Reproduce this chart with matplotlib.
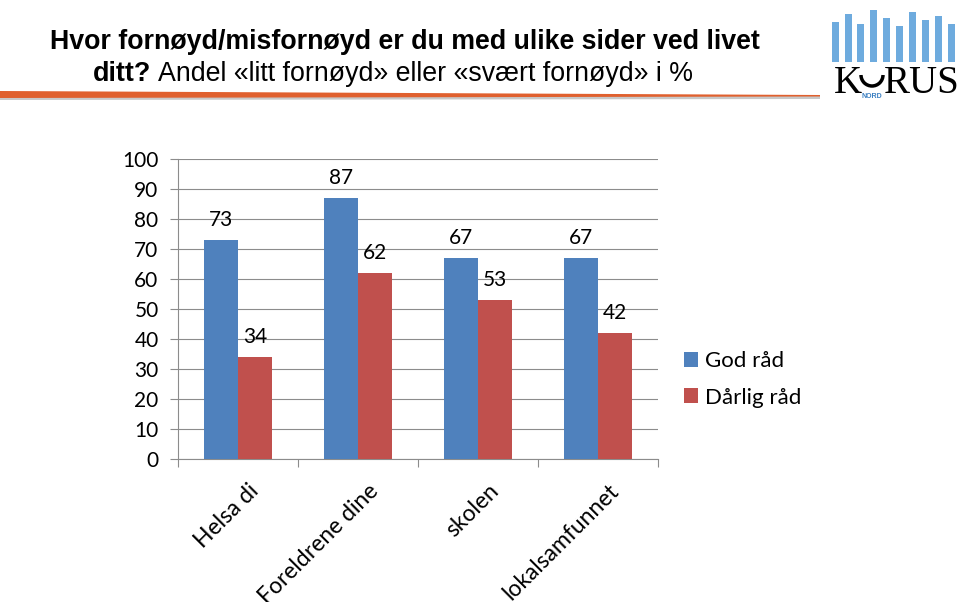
import numpy as np
import matplotlib.pyplot as plt
from matplotlib.patches import Rectangle, Polygon, Arc

# Data
categories = ["Helsa di", "Foreldrene dine", "skolen", "lokalsamfunnet"]
god_rad = [73, 87, 67, 67]
darlig_rad = [34, 62, 53, 42]
series_names = ["God råd", "Dårlig råd"]

blue = "#4F81BD"
red = "#C0504D"
body_font = ["Lato", "DejaVu Sans"]
title_font = ["Liberation Sans", "DejaVu Sans"]

fig = plt.figure(figsize=(9.6, 6.02), dpi=100)
W, H = 960, 602


def fx(px):
    return px / W


def fy(py):
    return 1 - py / H


# plot area: x 178-658, y 159-459 (pixels from top)
ax = fig.add_axes([fx(178), fy(459), 480 / W, 300 / H])

x = np.arange(len(categories))
w = 0.283
b1 = ax.bar(x - w / 2, god_rad, w, color=blue, label=series_names[0], zorder=3)
b2 = ax.bar(x + w / 2, darlig_rad, w, color=red, label=series_names[1], zorder=3)

for bars, vals in [(b1, god_rad), (b2, darlig_rad)]:
    for rect, v in zip(bars, vals):
        ax.text(rect.get_x() + rect.get_width() / 2, v + 3.2, str(v),
                ha="center", va="bottom", fontsize=15, family=body_font)

ax.set_xlim(-0.5, len(categories) - 0.5)
ax.set_ylim(0, 100)
ax.set_yticks(range(0, 101, 10))
ax.yaxis.grid(True, color="#8c8c8c", linewidth=0.8, zorder=0)
ax.set_axisbelow(True)

for side in ["top", "right"]:
    ax.spines[side].set_visible(False)
ax.spines["left"].set_color("#8c8c8c")
ax.spines["bottom"].set_color("#8c8c8c")

ax.tick_params(axis="y", length=6, color="#8c8c8c", labelsize=15, pad=8)
for lbl in ax.get_yticklabels():
    lbl.set_family(body_font)

# category boundary ticks
ax.set_xticks(np.arange(-0.5, len(categories) + 0.5, 1))
ax.set_xticklabels([])
ax.tick_params(axis="x", length=6, color="#8c8c8c")
for i, c in enumerate(categories):
    ax.text(i + 0.08, -7, c, rotation=45, ha="right", va="top",
            rotation_mode="anchor", fontsize=16.5, family=body_font,
            transform=ax.transData, clip_on=False)

# legend
leg = fig.legend(handles=[b1, b2], labels=series_names, loc="upper left",
                 bbox_to_anchor=(fx(664), fy(331)), frameon=False,
                 prop={"family": body_font, "size": 16}, handlelength=0.65,
                 handleheight=0.65, labelspacing=0.75, handletextpad=0.3)

# title
fig.text(fx(50), fy(42), "Hvor fornøyd/misfornøyd er du med ulike sider ved livet",
         fontsize=19.3, fontweight="bold", family=title_font, va="center")
t_bold = fig.text(fx(93), fy(74), "ditt?", fontsize=19.3, fontweight="bold",
                  family=title_font, va="center")
fig.canvas.draw()
end_px = t_bold.get_window_extent().x1
fig.text((end_px + 7) / W, fy(74), "Andel «litt fornøyd» eller «svært fornøyd» i %",
         fontsize=19.3, family=title_font, va="center")

# orange rule under title, tapering to the right
fig.patches.append(Polygon([(0, fy(93)), (fx(820), fy(96)), (fx(820), fy(99)), (0, fy(100))],
                           closed=True, transform=fig.transFigure,
                           facecolor="#c8c8c8", edgecolor="none"))
fig.patches.append(Polygon([(0, fy(91)), (fx(820), fy(95)), (fx(820), fy(96.5)), (0, fy(98))],
                           closed=True, transform=fig.transFigure,
                           facecolor="#E0602E", edgecolor="none"))

# logo (simple stand-in)
people_x = [832, 845, 857, 870, 883, 896, 909, 922, 935, 948]
people_h = [40, 48, 38, 52, 44, 36, 50, 42, 46, 38]
for px, ph in zip(people_x, people_h):
    fig.patches.append(Rectangle((fx(px), fy(62)), 7 / W, ph / H,
                                 transform=fig.transFigure, facecolor="#4a96d6",
                                 edgecolor="none", alpha=0.8))
fig.text(fx(834), fy(93), "K", fontsize=28, family=["Liberation Serif"],
         ha="left", va="baseline", color="black")
fig.patches.append(Arc((fx(872), fy(75)), 22 / W, 22 / H, theta1=180, theta2=360,
                       transform=fig.transFigure, color="black", linewidth=2.5))
fig.text(fx(872), fy(97), "NORD", fontsize=5, family=title_font,
         ha="center", va="center", color="#3a7fc1", fontweight="bold")
fig.text(fx(884), fy(93), "RUS", fontsize=28, family=["Liberation Serif"],
         ha="left", va="baseline", color="black")

fig.savefig("out.png", dpi=100)
